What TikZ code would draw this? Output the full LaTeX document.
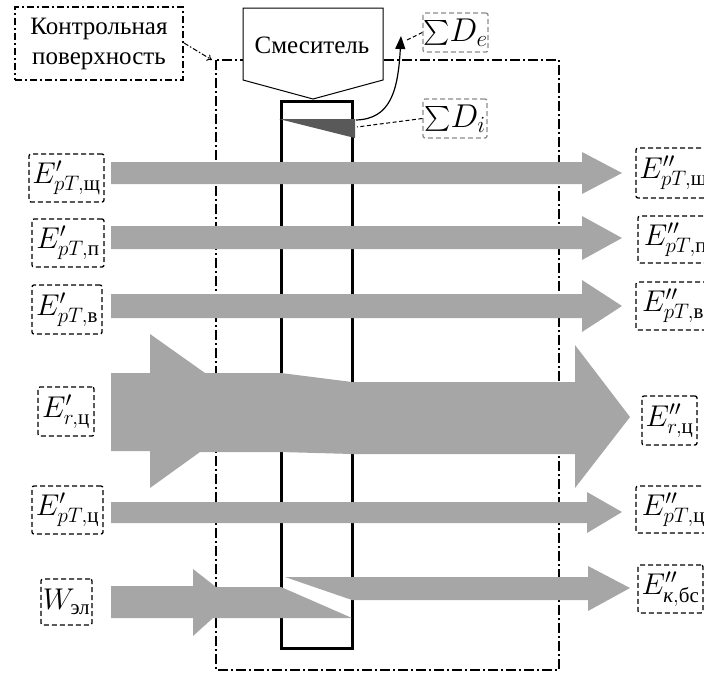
\RequirePackage{fix-cm}
\documentclass[tikz,border=0pt]{standalone}
\usepackage{amsmath}
\usepackage{fontspec}
\setmainfont{Liberation Serif}
\usetikzlibrary{arrows.meta}
\definecolor{flow}{HTML}{A6A6A6}
\definecolor{wedgec}{HTML}{595959}
\definecolor{boxgray}{HTML}{8C8C8C}
\tikzset{
  lbl/.style={draw, dash pattern=on 5pt off 3pt, line width=1.3pt, rounded corners=2pt,
    inner sep=0pt, font=\fontsize{30}{32}\selectfont},
  sbox/.style={lbl, draw=boxgray, font=\fontsize{33}{35}\selectfont},
  ctrl/.style={line width=1.9pt, dash pattern=on 10pt off 3pt on 2pt off 3pt},
  flowfill/.style={fill=flow, draw=none},
  conn/.style={dash pattern=on 4pt off 2.5pt, line width=1pt},
}
\begin{document}
\begin{tikzpicture}[x=1pt,y=-1pt]
\useasboundingbox (0,0) rectangle (704,675);
\clip (0,0) rectangle (704,675);
% control surface
\draw[ctrl] (216,60) rectangle (559,670);
% bar (apparatus)
\node[draw, line width=3pt, minimum width=71pt, minimum height=547pt, inner sep=0pt] (bar) at (316.5,374.5) {};
% flows
\fill[flowfill] (111,162) -- (582,162) -- (582,152) -- (622,173) -- (582,194) -- (582,184) -- (111,184) -- cycle;
\fill[flowfill] (111,226) -- (582,226) -- (582,216) -- (622,238) -- (582,260) -- (582,249) -- (111,249) -- cycle;
\fill[flowfill] (111,294) -- (582,294) -- (582,280) -- (622,306) -- (582,332) -- (582,318) -- (111,318) -- cycle;
\fill[flowfill] (111,373) -- (150,373) -- (150,334) -- (205,373) -- (281,373) -- (352,382) -- (575,382)
  -- (575,345) -- (630,417) -- (575,488) -- (575,454) -- (352,454) -- (281,452) -- (200,452)
  -- (150,488) -- (150,451) -- (111,451) -- cycle;
\fill[flowfill] (111,502) -- (587,502) -- (587,492) -- (622,512) -- (587,533) -- (587,523) -- (111,523) -- cycle;
\fill[flowfill] (111,586) -- (193,586) -- (193,569) -- (216,587) -- (281,587) -- (352,618) -- (213,618)
  -- (193,636) -- (193,618) -- (111,618) -- cycle;
\fill[flowfill] (285,577) -- (588,577) -- (588,566) -- (630,588) -- (588,611) -- (588,600) -- (352,600) -- cycle;
% destruction wedge
\fill[wedgec] (279,119) -- (355,119) -- (355,138) -- cycle;
\coordinate (wout) at (356,120);
\coordinate (wmid) at (357,127);
% mixer
\draw[line width=1pt, fill=white] (243,8) -- (383,8) -- (383,80) -- (313,99) -- (243,80) -- cycle;
\node[font=\fontsize{25}{27}\selectfont] (mix) at (312,45) {Смеситель};
% external loss arrow
\coordinate (dtip) at (401,36);
\draw[line width=1.2pt, -{Triangle[length=13pt,width=10pt]}] (wout) .. controls (390,119) and (398,92) .. (dtip);
\coordinate (dnear) at (405,41);
% label boxes
\node[draw, line width=1.3pt, dash pattern=on 7pt off 3pt on 2pt off 3pt, minimum width=168pt, minimum height=73pt,
  inner sep=0pt, align=center, font=\fontsize{25}{30}\selectfont] (kp) at (99,43.5) {Контрольная\\поверхность};
\coordinate (kptip) at (212,60);
\coordinate (kpout) at (184,43);
\draw[line width=1pt, dash pattern=on 5pt off 2pt on 1.5pt off 2pt, -{To[length=5pt,width=7pt]}] (kpout) -- (kptip);

\node[sbox, minimum width=65pt, minimum height=39pt] (sde) at (455.5,32.5) {$\sum\! D_e$};
\node[sbox, minimum width=64pt, minimum height=39pt] (sdi) at (455,118.5) {$\sum\! D_i$};
\draw[conn] (sde.west) -- (dnear);
\draw[conn] (sdi.west) -- (wmid);

\node[lbl, minimum width=75pt, minimum height=48pt] (l1) at (66.5,178) {$E'_{pT,\text{щ}}$};
\node[lbl, minimum width=72pt, minimum height=48pt] (l2) at (68,243) {$E'_{pT,\text{п}}$};
\node[lbl, minimum width=70pt, minimum height=49pt] (l3) at (67,309.5) {$E'_{pT,\text{в}}$};
\node[lbl, minimum width=56pt, minimum height=49pt] (l4) at (66,411.5) {$E'_{r,\text{ц}}$};
\node[lbl, minimum width=71pt, minimum height=48pt] (l5) at (67.5,510) {$E'_{pT,\text{ц}}$};
\node[lbl, minimum width=51pt, minimum height=46pt] (l6) at (66.5,602) {$W_{\text{эл}}$};

\node[lbl, minimum width=75pt, minimum height=50pt] (r1) at (673.5,173) {$E''_{pT,\text{щ}}$};
\node[lbl, minimum width=75pt, minimum height=47pt] (r2) at (675.5,239.5) {$E''_{pT,\text{п}}$};
\node[lbl, minimum width=74pt, minimum height=48pt] (r3) at (673,306) {$E''_{pT,\text{в}}$};
\node[lbl, minimum width=55pt, minimum height=49pt] (r4) at (669.5,420.5) {$E''_{r,\text{ц}}$};
\node[lbl, minimum width=75pt, minimum height=47pt] (r5) at (673.5,509.5) {$E''_{pT,\text{ц}}$};
\node[lbl, minimum width=65pt, minimum height=48pt] (r6) at (670.5,589) {$E''_{\textit{к},\text{бс}}$};
\end{tikzpicture}
\end{document}
